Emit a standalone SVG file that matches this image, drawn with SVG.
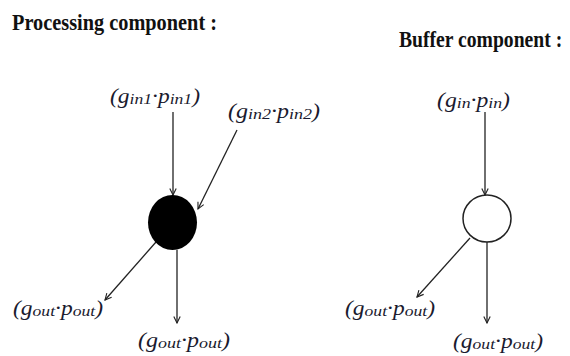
<svg xmlns="http://www.w3.org/2000/svg" width="570" height="356" viewBox="0 0 570 356">
<style>
.title{font-family:"Liberation Serif","DejaVu Serif",serif;font-weight:bold;font-size:23px;fill:#111}
.lbl{font-family:"Liberation Serif","DejaVu Serif",serif;font-style:italic;font-size:20px;fill:#1a1a2e}
.sub{font-size:15px}
.edge{stroke:#222;stroke-width:1.3;fill:none;marker-end:url(#arr)}
</style>
<defs>
<marker id="arr" viewBox="0 0 10 10" refX="9" refY="5" markerWidth="8" markerHeight="8" markerUnits="userSpaceOnUse" orient="auto">
<path d="M1,1 L9,5 L1,9" fill="none" stroke="#222" stroke-width="1.4"/>
</marker>
</defs>
<rect width="570" height="356" fill="#fff"/>
<text class="title" x="12" y="30" textLength="205" lengthAdjust="spacingAndGlyphs">Processing component :</text>
<text class="title" transform="translate(399,47) scale(0.8,1)" x="0" y="0" textLength="204" lengthAdjust="spacingAndGlyphs">Buffer component :</text>
<g id="connectors">
<line class="edge" x1="173" y1="112" x2="173" y2="195"/>
<line class="edge" x1="237" y1="130" x2="198" y2="209"/>
<line class="edge" x1="156" y1="242" x2="105" y2="300"/>
<line class="edge" x1="177" y1="250" x2="177" y2="323"/>
<line class="edge" x1="485" y1="112" x2="485" y2="195"/>
<line class="edge" x1="470" y1="238" x2="417" y2="297"/>
<line class="edge" x1="487" y1="242" x2="487" y2="323"/>
</g>
<g id="processing">
<ellipse cx="172.5" cy="222.5" rx="24.5" ry="27.5" fill="#000"/>
</g>
<g id="buffer">
<ellipse cx="487" cy="218.5" rx="24" ry="23.5" fill="#fff" stroke="#222" stroke-width="1.5"/>
</g>
<g id="lbl-in1"><text class="lbl" x="110" y="103" textLength="90" lengthAdjust="spacingAndGlyphs">(g<tspan class="sub" dy="1">in1</tspan><tspan dy="-1">·p</tspan><tspan class="sub" dy="1">in1</tspan><tspan dy="-1">)</tspan></text></g>
<g id="lbl-in2"><text class="lbl" x="228" y="118" textLength="92" lengthAdjust="spacingAndGlyphs">(g<tspan class="sub" dy="1">in2</tspan><tspan dy="-1">·p</tspan><tspan class="sub" dy="1">in2</tspan><tspan dy="-1">)</tspan></text></g>
<g id="lbl-out1"><text class="lbl" x="13" y="315" textLength="90" lengthAdjust="spacingAndGlyphs">(g<tspan class="sub" dy="1">out</tspan><tspan dy="-1">·p</tspan><tspan class="sub" dy="1">out</tspan><tspan dy="-1">)</tspan></text></g>
<g id="lbl-out2"><text class="lbl" x="138" y="347" textLength="92" lengthAdjust="spacingAndGlyphs">(g<tspan class="sub" dy="1">out</tspan><tspan dy="-1">·p</tspan><tspan class="sub" dy="1">out</tspan><tspan dy="-1">)</tspan></text></g>
<g id="lbl-bin"><text class="lbl" x="437" y="107" textLength="73" lengthAdjust="spacingAndGlyphs">(g<tspan class="sub" dy="1">in</tspan><tspan dy="-1">·p</tspan><tspan class="sub" dy="1">in</tspan><tspan dy="-1">)</tspan></text></g>
<g id="lbl-bout1"><text class="lbl" x="345" y="315" textLength="90" lengthAdjust="spacingAndGlyphs">(g<tspan class="sub" dy="1">out</tspan><tspan dy="-1">·p</tspan><tspan class="sub" dy="1">out</tspan><tspan dy="-1">)</tspan></text></g>
<g id="lbl-bout2"><text class="lbl" x="453" y="348" textLength="90" lengthAdjust="spacingAndGlyphs">(g<tspan class="sub" dy="1">out</tspan><tspan dy="-1">·p</tspan><tspan class="sub" dy="1">out</tspan><tspan dy="-1">)</tspan></text></g>
</svg>
